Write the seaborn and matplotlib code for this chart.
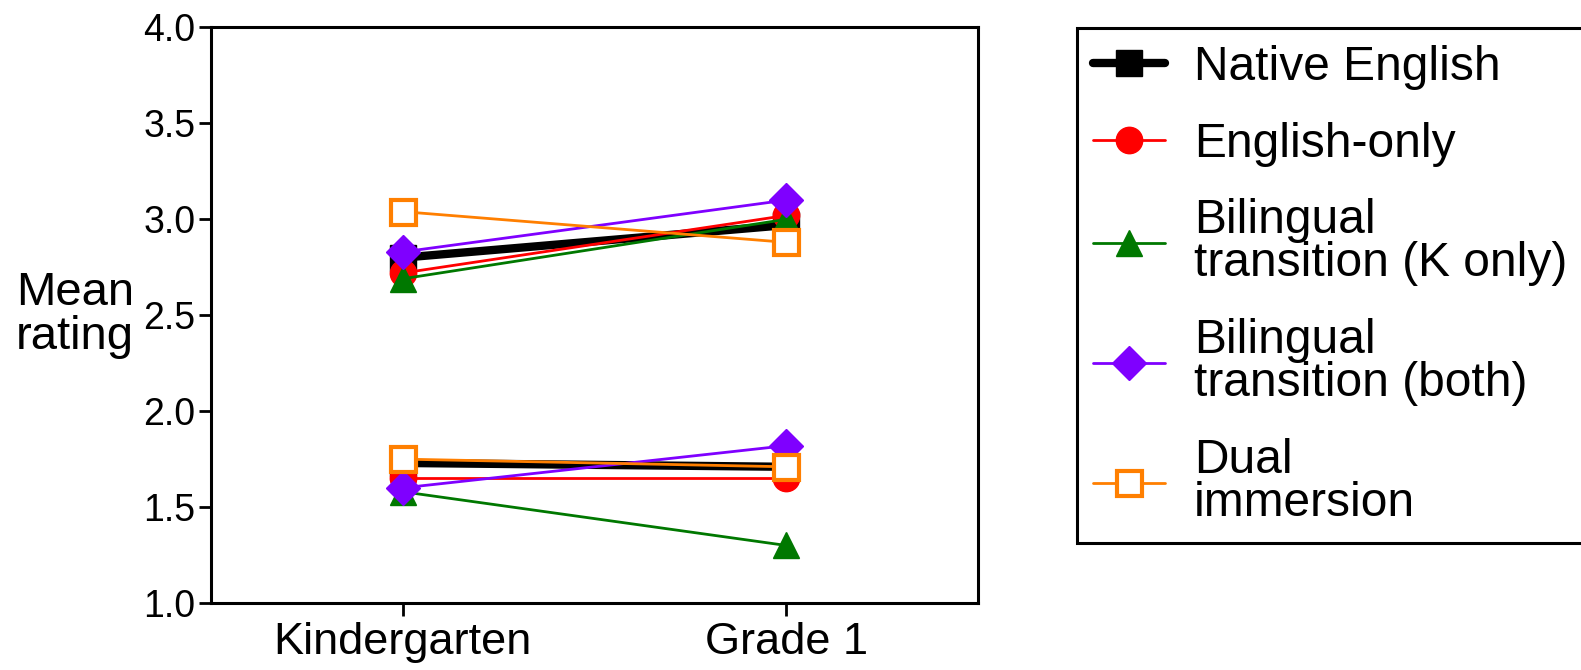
import matplotlib
matplotlib.use("Agg")
import matplotlib.pyplot as plt
import seaborn as sns
import pandas as pd

grades = ["Kindergarten", "Grade 1"]
series = ["Native English", "English-only", "Bilingual\ntransition (K only)",
          "Bilingual\ntransition (both)", "Dual\nimmersion"]
upper_vals = {
    "Native English": [2.80, 2.97],
    "English-only": [2.72, 3.02],
    "Bilingual\ntransition (K only)": [2.69, 3.00],
    "Bilingual\ntransition (both)": [2.83, 3.10],
    "Dual\nimmersion": [3.04, 2.88],
}
lower_vals = {
    "Native English": [1.73, 1.71],
    "English-only": [1.65, 1.65],
    "Bilingual\ntransition (K only)": [1.58, 1.30],
    "Bilingual\ntransition (both)": [1.60, 1.82],
    "Dual\nimmersion": [1.75, 1.71],
}
colors = ["#000000", "#ff0000", "#007800", "#7f00ff", "#ff7f00"]
markers = ["s", "o", "^", "D", "s"]
linewidths = [6, 2, 2, 2, 2]
msizes = [19, 19, 19, 17, 18]

sns.set_theme(style="white")
plt.rcParams["font.family"] = ["Liberation Sans", "DejaVu Sans"]
plt.rcParams["text.color"] = "black"
plt.rcParams["axes.labelcolor"] = "black"
plt.rcParams["xtick.color"] = "black"
plt.rcParams["ytick.color"] = "black"

fig = plt.figure(figsize=(15.81, 6.70), dpi=100)
ax = fig.add_axes([0.1333, 0.100, 0.4853, 0.859])

handles = []
for i, s in enumerate(series):
    hollow = (i == 4)
    kw = dict(color=colors[i], marker=markers[i], linewidth=linewidths[i],
              markersize=msizes[i], markeredgecolor=colors[i],
              markerfacecolor="white" if hollow else colors[i],
              markeredgewidth=3 if hollow else 1, zorder=3 + i)
    for vals, lab in ((upper_vals, s), (lower_vals, "_nolegend_")):
        df = pd.DataFrame({"grade": grades, "rating": vals[s]})
        sns.lineplot(data=df, x="grade", y="rating", ax=ax, label=lab,
                     legend=False, sort=False, **kw)
    handles.append(ax.get_lines()[-2])

ax.set_xlim(-0.5, 1.5)
ax.set_ylim(1.0, 4.0)
ax.set_yticks([1.0, 1.5, 2.0, 2.5, 3.0, 3.5, 4.0])
ax.set_yticklabels(["1.0", "1.5", "2.0", "2.5", "3.0", "3.5", "4.0"])
ax.set_xlabel("")
ax.set_ylabel("Mean\nrating", rotation=0, fontsize=34, ha="center", va="center",
              linespacing=1.0, color="black")
ax.yaxis.set_label_coords(-0.177, 0.50)

for sp in ax.spines.values():
    sp.set_visible(True)
    sp.set_color("black")
    sp.set_linewidth(2.2)
ax.tick_params(axis="y", direction="out", length=9, width=2, labelsize=27,
               left=True, pad=2, colors="black")
ax.tick_params(axis="x", direction="out", length=9, width=2, labelsize=32.5,
               bottom=True, pad=5, colors="black")
ax.grid(False)

leg = fig.legend(handles=handles, labels=series, loc="upper left",
                 bbox_to_anchor=(0.681, 0.958), frameon=True, fancybox=False,
                 framealpha=1.0,
                 fontsize=34.5, handlelength=1.5, handletextpad=0.6,
                 labelspacing=0.66, borderpad=0.35, borderaxespad=0,
                 markerscale=1.0)
leg.get_frame().set_edgecolor("black")
leg.get_frame().set_linewidth(2.2)
for t in leg.get_texts():
    t.set_linespacing(0.95)
    t.set_color("black")

fig.savefig("out.png", dpi=100, facecolor="white")
